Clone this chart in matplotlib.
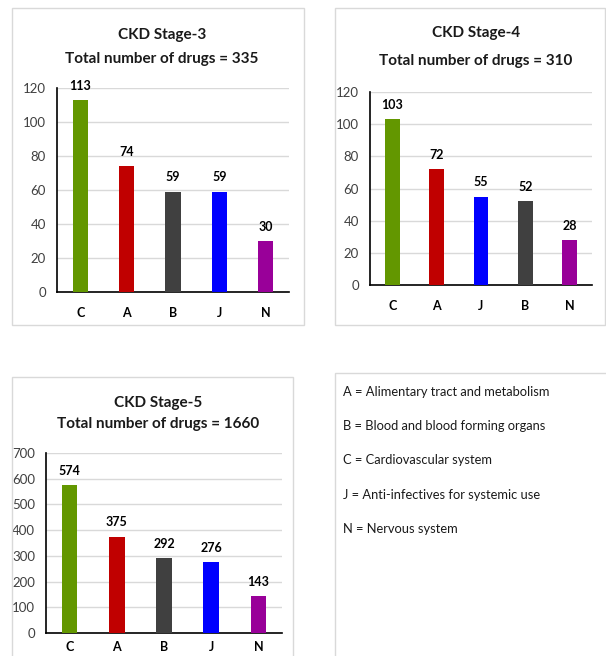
import matplotlib
matplotlib.use("Agg")
import matplotlib.pyplot as plt
from matplotlib.patches import Rectangle

# Data
stage3_cats = ["C", "A", "B", "J", "N"]
stage3_vals = [113, 74, 59, 59, 30]
stage4_cats = ["C", "A", "J", "B", "N"]
stage4_vals = [103, 72, 55, 52, 28]
stage5_cats = ["C", "A", "B", "J", "N"]
stage5_vals = [574, 375, 292, 276, 143]
titles = ["CKD Stage-3\nTotal number of drugs = 335",
          "CKD Stage-4\nTotal number of drugs = 310",
          "CKD Stage-5\nTotal number of drugs = 1660"]
legend_lines = ["A = Alimentary tract and metabolism",
                "B = Blood and blood forming organs",
                "C = Cardiovascular system",
                "J = Anti-infectives for systemic use",
                "N = Nervous system"]

cat_colors = {"C": "#639700", "A": "#C00000", "B": "#404040",
              "J": "#0000FF", "N": "#990099"}

plt.rcParams["font.family"] = ["Lato", "DejaVu Sans"]

W, H = 606, 656
fig = plt.figure(figsize=(W / 100, H / 100), dpi=100)
fig.patch.set_facecolor("white")


def px_rect(x0, y0, x1, y1):
    return [x0 / W, 1 - y1 / H, (x1 - x0) / W, (y1 - y0) / H]


def frame(x0, y0, x1, y1):
    fig.patches.append(Rectangle((x0 / W, 1 - y1 / H), (x1 - x0) / W, (y1 - y0) / H,
                                 transform=fig.transFigure, fill=False,
                                 edgecolor="#D9D9D9", linewidth=1.0))


def panel(box, ymax, ystep, cats, vals, title, title_xy, label_pad, xpad):
    ax = fig.add_axes(px_rect(*box))
    x = list(range(len(cats)))
    ax.bar(x, vals, width=0.33, color=[cat_colors[c] for c in cats], zorder=3)
    ax.set_xlim(-0.5, len(cats) - 0.5)
    ax.set_ylim(0, ymax)
    ax.set_yticks(range(0, ymax + 1, ystep))
    ax.yaxis.grid(True, color="#D9D9D9", linewidth=1.0, zorder=0)
    ax.set_axisbelow(True)
    for s in ["top", "right"]:
        ax.spines[s].set_visible(False)
    for s in ["left", "bottom"]:
        ax.spines[s].set_color("black")
        ax.spines[s].set_linewidth(1.2)
    ax.tick_params(axis="y", length=0, labelsize=9.5, labelcolor="#404040", pad=8)
    ax.tick_params(axis="x", length=0, labelsize=9, pad=xpad)
    ax.set_xticks(x)
    ax.set_xticklabels(cats, fontweight="bold")
    for xi, v in zip(x, vals):
        ax.annotate(str(v), (xi, v), xytext=(0, label_pad), textcoords="offset points",
                    ha="center", va="bottom", fontsize=9, fontweight="bold")
    l1, l2 = title.split("\n")
    tx, ty = title_xy
    for line, yy in zip((l1, l2), ty):
        fig.text(tx / W, 1 - yy / H, line, ha="center", va="center", fontsize=11,
                 fontweight="bold", color="#1a1a1a")
    return ax


# Panel frames
frame(12, 8, 304, 325)
frame(335, 8, 605, 325)
frame(12, 377, 293, 660)
frame(335, 373, 610, 660)

panel((57, 88, 289, 292), 120, 20, stage3_cats, stage3_vals, titles[0],
      (162, (35, 59)), 6, 11)
panel((370, 92, 592, 285), 120, 20, stage4_cats, stage4_vals, titles[1],
      (476, (33, 61)), 6, 11)
panel((46, 453, 282, 633), 700, 100, stage5_cats, stage5_vals, titles[2],
      (158, (403, 424)), 6, 6)

# Category key
for i, line in enumerate(legend_lines):
    y = [392, 426, 460, 495, 529][i]
    fig.text(343 / W, 1 - y / H, line, ha="left", va="center", fontsize=9.3,
             color="#1a1a1a")

fig.savefig("out.png", dpi=100)
